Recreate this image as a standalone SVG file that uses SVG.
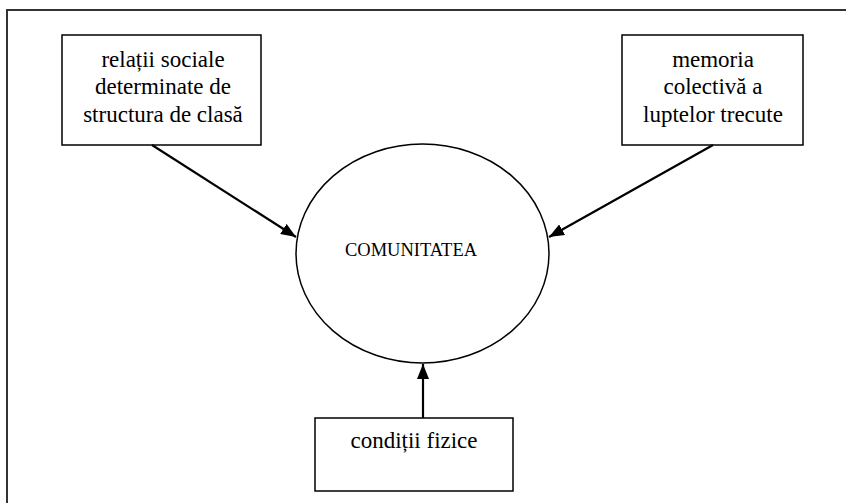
<svg xmlns="http://www.w3.org/2000/svg" width="846" height="503" viewBox="0 0 846 503">
<style>
.box{fill:#fff;stroke:#000;stroke-width:1.5}
text{font-family:"Liberation Serif","Times New Roman","DejaVu Serif",serif;fill:#000;text-anchor:middle}
.t{font-size:23px}
.c{stroke:#000;stroke-width:2.2;fill:none;marker-end:url(#ah)}
</style>
<defs>
<marker id="ah" markerUnits="userSpaceOnUse" markerWidth="16" markerHeight="12" refX="15" refY="6" orient="auto">
<path d="M0,0 L15,6 L0,12 Z" fill="#000"/>
</marker>
</defs>
<rect width="846" height="503" fill="#fff"/>
<path d="M7,503 V10 H846" fill="none" stroke="#333" stroke-width="2"/>
<g id="comunitatea">
<ellipse cx="422.5" cy="253.5" rx="126.5" ry="109.5" fill="#fff" stroke="#000" stroke-width="1.5"/>
<text x="411" y="256" font-size="18.5">COMUNITATEA</text>
</g>
<g id="relatii">
<rect class="box" x="62" y="35" width="199" height="110"/>
<text class="t" x="163" y="67">relații sociale</text>
<text class="t" x="163" y="94">determinate de</text>
<text class="t" x="163" y="122">structura de clasă</text>
</g>
<g id="memoria">
<rect class="box" x="622" y="35" width="181" height="110"/>
<text class="t" x="713" y="67">memoria</text>
<text class="t" x="713" y="94">colectivă a</text>
<text class="t" x="713" y="122">luptelor trecute</text>
</g>
<g id="conditii">
<rect class="box" x="315" y="418" width="198" height="73"/>
<text class="t" x="414" y="448">condiții fizice</text>
</g>
<g id="connectors">
<line class="c" x1="152" y1="145" x2="296" y2="237"/>
<line class="c" x1="713" y1="145" x2="549" y2="237"/>
<line class="c" x1="423" y1="418" x2="423" y2="364"/>
</g>
</svg>
